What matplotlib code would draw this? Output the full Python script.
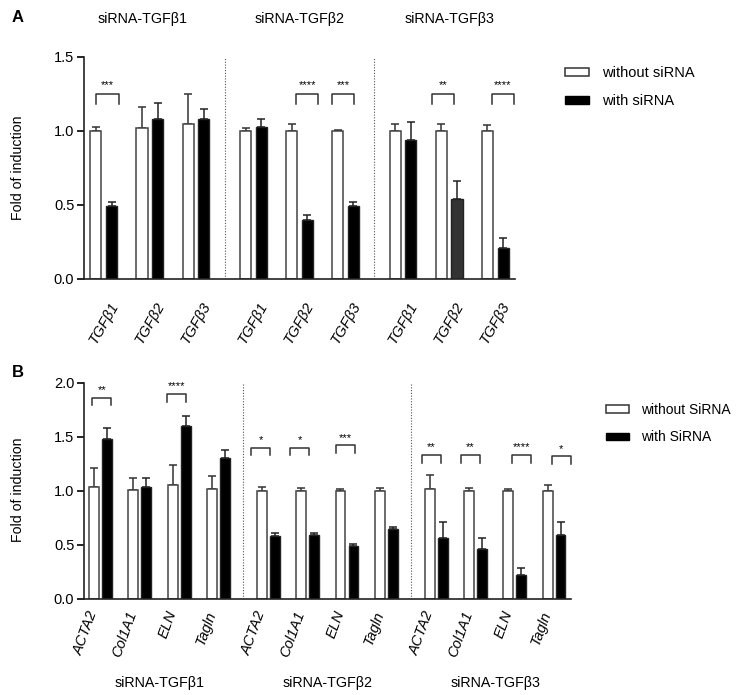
import numpy as np
import matplotlib.pyplot as plt
from matplotlib.patches import Patch

plt.rcParams['font.family'] = ['Liberation Sans', 'DejaVu Sans']

# ---- data, panel A ----
groups = ['siRNA-TGFβ1', 'siRNA-TGFβ2', 'siRNA-TGFβ3']
genes_a = ['TGFβ1', 'TGFβ2', 'TGFβ3']
a_without = [1.00, 1.02, 1.05, 1.00, 1.00, 1.00, 1.00, 1.00, 1.00]
a_without_err = [0.03, 0.14, 0.20, 0.02, 0.05, 0.01, 0.05, 0.05, 0.04]
a_with = [0.49, 1.08, 1.08, 1.03, 0.40, 0.49, 0.94, 0.54, 0.21]
a_with_err = [0.03, 0.11, 0.07, 0.05, 0.03, 0.03, 0.12, 0.12, 0.07]
a_sig_idx = [0, 4, 5, 7, 8]
a_sig = ['***', '****', '***', '**', '****']

# ---- data, panel B ----
genes_b = ['ACTA2', 'Col1A1', 'ELN', 'Tagln']
b_without = [1.04, 1.01, 1.05, 1.02, 1.00, 1.00, 1.00, 1.00, 1.02, 1.00, 1.00, 1.00]
b_without_err = [0.17, 0.11, 0.19, 0.12, 0.04, 0.03, 0.02, 0.03, 0.13, 0.03, 0.02, 0.05]
b_with = [1.48, 1.04, 1.60, 1.30, 0.58, 0.59, 0.49, 0.65, 0.56, 0.46, 0.22, 0.59]
b_with_err = [0.10, 0.08, 0.09, 0.08, 0.03, 0.02, 0.02, 0.02, 0.15, 0.10, 0.07, 0.12]
b_sig_idx = [0, 2, 4, 5, 6, 8, 9, 10, 11]
b_sig = ['**', '****', '*', '*', '***', '**', '**', '****', '*']
b_sig_h = [1.86, 1.895, 1.40, 1.40, 1.42, 1.33, 1.33, 1.33, 1.32]


def positions(n_groups, n_per, gap):
    pos = []
    for g in range(n_groups):
        for i in range(n_per):
            pos.append(g * (n_per + gap) + i)
    return np.array(pos, dtype=float)


def bracket(ax, x, y, drop, text, shift):
    x1, x2 = x - 0.24 + shift, x + 0.24 + shift
    ax.plot([x1, x1, x2, x2], [y - drop, y, y, y - drop], color='#333333', lw=1.1,
            clip_on=False)
    ax.text((x1 + x2) / 2, y + drop * 0.35, text, ha='center', va='bottom', fontsize=8)


def draw_pairs(ax, pos, without, without_err, with_, with_err, w, off, dark=None):
    ax.bar(pos - off, without, w, color='white', edgecolor='#444444', lw=1.1, zorder=2)
    colors = ['black'] * len(pos)
    if dark is not None:
        colors[dark] = '#333333'
    ax.bar(pos + off, with_, w, color=colors, edgecolor='#222222', lw=1.0, zorder=2)
    ax.errorbar(pos - off, without, yerr=[np.zeros(len(pos)), without_err], fmt='none',
                ecolor='#333333', elinewidth=1.1, capsize=3, capthick=1.1, zorder=1)
    ax.errorbar(pos + off, with_, yerr=[np.zeros(len(pos)), with_err], fmt='none',
                ecolor='#222222', elinewidth=1.1, capsize=3, capthick=1.1, zorder=1)


def style(ax):
    for s in ['top', 'right']:
        ax.spines[s].set_visible(False)
    for s in ['left', 'bottom']:
        ax.spines[s].set_linewidth(1.2)
        ax.spines[s].set_color('#222222')
    ax.tick_params(axis='y', length=5, width=1.2, labelsize=10.5, pad=2)


fig = plt.figure(figsize=(7.36, 6.95), dpi=100)
W, H = 736, 695

# ---- panel A ----
axA = fig.add_axes([84 / W, 1 - 279 / H, (515 - 84) / W, (279 - 57) / H])
posA = positions(3, 3, 0.25)
draw_pairs(axA, posA, a_without, a_without_err, a_with, a_with_err, 0.24, 0.17, dark=7)
style(axA)
axA.set_xlim(-0.43, 8.93)
axA.set_ylim(0, 1.5)
axA.set_yticks([0.0, 0.5, 1.0, 1.5])
axA.set_yticklabels(['0.0', '0.5', '1.0', '1.5'])
axA.set_xticks(posA)
axA.set_xticklabels(genes_a * 3, rotation=60, ha='center', style='italic', fontsize=10.5)
axA.tick_params(axis='x', length=0, pad=15)
for d in [2.625, 5.875]:
    axA.axvline(d, color='#555555', lw=0.8, ls=(0, (1, 1.5)))
a_shift = [0.08, 0.17, -0.05, -0.14, 0.17]
for i, s, sh in zip(a_sig_idx, a_sig, a_shift):
    bracket(axA, posA[i], 1.25, 0.07, s, sh)
for g, name in enumerate(groups):
    axA.text(posA[g * 3 + 1] - (0.15 if g == 0 else 0), 1.76, name, ha='center',
             va='center', fontsize=10.3, clip_on=False)

# ---- panel B ----
axB = fig.add_axes([84 / W, 1 - 599 / H, (571 - 84) / W, (599 - 382.7) / H])
posB = positions(3, 4, 0.27)
draw_pairs(axB, posB, b_without, b_without_err, b_with, b_with_err, 0.25, 0.165)
style(axB)
axB.set_xlim(-0.42, 11.97)
axB.set_ylim(0, 2.0)
axB.set_yticks([0.0, 0.5, 1.0, 1.5, 2.0])
axB.set_yticklabels(['0.0', '0.5', '1.0', '1.5', '2.0'])
axB.set_xticks(posB)
axB.set_xticklabels(genes_b * 3, rotation=70, ha='right', style='italic', fontsize=10.5)
axB.tick_params(axis='x', length=0, pad=7)
for d in [3.635, 7.9]:
    axB.axvline(d, color='#555555', lw=0.8, ls=(0, (1, 1.5)))
b_shift = [0.03, -0.06, -0.2, -0.2, -0.04, -0.12, -0.13, 0.17, 0.18]
for i, s, h, sh in zip(b_sig_idx, b_sig, b_sig_h, b_shift):
    bracket(axB, posB[i], h, 0.07, s, sh)
for g, name in enumerate(groups):
    axB.text(posB[g * 4] + 1.5, -0.78, name, ha='center', va='center', fontsize=10.3,
             clip_on=False)

# ---- shared text ----
fig.text(12 / W, 1 - 18 / H, 'A', fontsize=12, fontweight='bold', va='center')
fig.text(12 / W, 1 - 372 / H, 'B', fontsize=12, fontweight='bold', va='center')
fig.text(18 / W, 1 - 168 / H, 'Fold of induction', rotation=90, ha='center',
         va='center', fontsize=10.2)
fig.text(18 / W, 1 - 490 / H, 'Fold of induction', rotation=90, ha='center',
         va='center', fontsize=10.2)

hA = [Patch(facecolor='white', edgecolor='#333333', lw=1.1),
      Patch(facecolor='black', edgecolor='black')]
leg_kw = dict(loc='upper left', frameon=False, handlelength=1.65,
              handleheight=0.45, handletextpad=0.9, borderpad=0, borderaxespad=0)
fig.legend(hA, ['without siRNA', 'with siRNA'], bbox_to_anchor=(565 / W, 1 - 66 / H),
           labelspacing=0.95, fontsize=10.5, **leg_kw)
fig.legend(hA, ['without SiRNA', 'with SiRNA'], bbox_to_anchor=(606 / W, 1 - 403 / H),
           labelspacing=0.95, fontsize=10.0, **leg_kw)

fig.savefig('out.png', dpi=100)
